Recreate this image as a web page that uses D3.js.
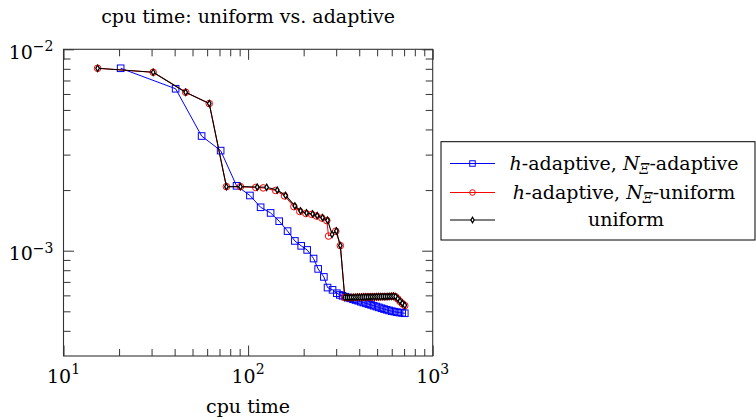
<!DOCTYPE html>
<html>
<head>
<meta charset="utf-8">
<script src="https://cdn.jsdelivr.net/npm/d3@7"></script>
<style>
  body { margin: 0; background: #fff; }
  text { font-family: "DejaVu Serif", serif; fill: #000; }
</style>
</head>
<body>
<div id="graph"></div>
<script>
// series values (cpu time vs error)
let xBlue = [20.4, 40.5, 56.0, 71.0, 86.6, 102.3, 116.9, 132.4, 147.4, 163.6, 179.2, 193.9, 208.9, 226.3, 239.6, 257.3, 269.4, 286.8, 302.6, 314.1,
  325, 336, 347, 358, 370, 382, 395, 408, 421, 435, 449, 464, 479, 495, 511, 528, 545, 563, 581, 600, 620, 640, 661, 683, 706];
let yBlue = [8.05e-3, 6.37e-3, 3.71e-3, 3.14e-3, 2.10e-3, 1.88e-3, 1.643e-3, 1.540e-3, 1.401e-3, 1.251e-3, 1.118e-3, 1.057e-3, 1.009e-3, 9.14e-4, 8.12e-4, 7.41e-4, 6.56e-4, 6.39e-4, 6.15e-4, 6.03e-4,
  5.97e-4, 5.91e-4, 5.85e-4, 5.80e-4, 5.74e-4, 5.69e-4, 5.64e-4, 5.58e-4, 5.53e-4, 5.48e-4, 5.43e-4, 5.38e-4, 5.33e-4, 5.28e-4, 5.23e-4, 5.18e-4, 5.13e-4, 5.09e-4, 5.05e-4, 5.01e-4, 4.98e-4, 4.95e-4, 4.93e-4, 4.91e-4, 4.89e-4];

let xRed = [15.3, 30.6, 45.9, 61.6, 76.3, 90.9, 110.0, 120.7, 141.0, 157.5, 177.0, 190.5, 205.5, 221.0, 234.5, 251.0, 267.0, 272.8, 298.5, 316, 334,
  343, 352, 361, 371, 381, 391, 401, 412, 423, 434, 446, 458, 470, 483, 496, 509, 523, 537, 551, 566, 581, 597, 613, 630, 647, 665, 685, 706];
let yRed = [8.05e-3, 7.69e-3, 6.12e-3, 5.38e-3, 2.08e-3, 2.08e-3, 2.06e-3, 2.05e-3, 1.99e-3, 1.87e-3, 1.655e-3, 1.565e-3, 1.530e-3, 1.515e-3, 1.487e-3, 1.452e-3, 1.410e-3, 1.182e-3, 1.250e-3, 1.06e-3, 5.86e-4,
  5.85e-4, 5.85e-4, 5.86e-4, 5.86e-4, 5.87e-4, 5.87e-4, 5.87e-4, 5.88e-4, 5.88e-4, 5.88e-4, 5.89e-4, 5.89e-4, 5.89e-4, 5.90e-4, 5.90e-4, 5.90e-4, 5.91e-4, 5.91e-4, 5.91e-4, 5.92e-4, 5.92e-4, 5.93e-4, 5.94e-4, 5.90e-4, 5.76e-4, 5.60e-4, 5.46e-4, 5.34e-4];

let xBlack = [15.3, 30.6, 45.9, 61.6, 76.3, 90.9, 112.0, 126.0, 143.8, 159.6, 179.2, 192.4, 207.4, 223.5, 236.7, 253.2, 269.4, 285.0, 300.7, 316, 334,
  343, 352, 361, 371, 381, 391, 401, 412, 423, 434, 446, 458, 470, 483, 496, 509, 523, 537, 551, 566, 581, 597, 613, 630, 647, 665, 685, 706];
let yBlack = [8.05e-3, 7.69e-3, 6.12e-3, 5.38e-3, 2.08e-3, 2.08e-3, 2.07e-3, 2.065e-3, 2.00e-3, 1.88e-3, 1.668e-3, 1.576e-3, 1.540e-3, 1.523e-3, 1.493e-3, 1.459e-3, 1.417e-3, 1.205e-3, 1.254e-3, 1.06e-3, 5.86e-4,
  5.86e-4, 5.86e-4, 5.87e-4, 5.87e-4, 5.87e-4, 5.88e-4, 5.88e-4, 5.88e-4, 5.89e-4, 5.89e-4, 5.89e-4, 5.90e-4, 5.90e-4, 5.90e-4, 5.91e-4, 5.91e-4, 5.91e-4, 5.92e-4, 5.92e-4, 5.92e-4, 5.93e-4, 5.93e-4, 5.94e-4, 5.92e-4, 5.78e-4, 5.62e-4, 5.48e-4, 5.36e-4];

// ticks
let xMajor = [10, 100, 1000];
let xMinor = [20, 30, 40, 50, 60, 70, 80, 90, 200, 300, 400, 500, 600, 700, 800, 900];
let yMajor = [1e-3, 1e-2];
let yMinor = [4e-4, 5e-4, 6e-4, 7e-4, 8e-4, 9e-4, 2e-3, 3e-3, 4e-3, 5e-3, 6e-3, 7e-3, 8e-3, 9e-3];
let xTickLabels = [["10", "1"], ["10", "2"], ["10", "3"]];
let yTickLabels = [["10", "\u22123"], ["10", "\u22122"]];

let svg = d3.select("#graph").append("svg")
  .attr("width", 756)
  .attr("height", 420);

let plotL = 63.5, plotR = 432.7, plotT = 49.3, plotB = 356;
let x = d3.scaleLog().domain([10, 1000]).range([plotL, plotR]);
let y = d3.scaleLog().domain([3e-4, 1e-2]).range([plotB, plotT]);

// inward ticks on all four sides
let tickGroup = (axis, tx, ty) => {
  let g = svg.append("g")
    .attr("transform", "translate(" + tx + "," + ty + ")")
    .call(axis);
  g.select(".domain").remove();
  g.selectAll("line").attr("stroke", "#333").attr("stroke-width", 1);
  g.selectAll("text").remove();
};
tickGroup(d3.axisBottom(x).tickValues(xMajor).tickSize(-10.5), 0, plotB);
tickGroup(d3.axisBottom(x).tickValues(xMinor).tickSize(-7), 0, plotB);
tickGroup(d3.axisTop(x).tickValues(xMajor).tickSize(-10.5), 0, plotT);
tickGroup(d3.axisTop(x).tickValues(xMinor).tickSize(-7), 0, plotT);
tickGroup(d3.axisLeft(y).tickValues(yMajor).tickSize(-10.5), plotL, 0);
tickGroup(d3.axisLeft(y).tickValues(yMinor).tickSize(-7), plotL, 0);
tickGroup(d3.axisRight(y).tickValues(yMajor).tickSize(-10.5), plotR, 0);
tickGroup(d3.axisRight(y).tickValues(yMinor).tickSize(-7), plotR, 0);

svg.append("rect")
  .attr("x", plotL).attr("y", plotT)
  .attr("width", plotR - plotL).attr("height", plotB - plotT)
  .attr("fill", "none").attr("stroke", "#333").attr("stroke-width", 1.1);

// tick labels with superscripts
xMajor.forEach((v, i) => {
  let t = svg.append("text")
    .attr("x", x(v)).attr("y", plotB + 27)
    .attr("text-anchor", "middle")
    .attr("font-size", 19);
  t.append("tspan").text(xTickLabels[i][0]);
  t.append("tspan").attr("font-size", 14).attr("dy", -9).text(xTickLabels[i][1]);
});
yMajor.forEach((v, i) => {
  let t = svg.append("text")
    .attr("x", 53.5).attr("y", y(v) + 9.5)
    .attr("text-anchor", "end")
    .attr("font-size", 19);
  t.append("tspan").text(yTickLabels[i][0]);
  t.append("tspan").attr("font-size", 14).attr("dy", -7.5).text(yTickLabels[i][1]);
});

svg.append("text")
  .attr("x", (plotL + plotR) / 2).attr("y", 23)
  .attr("text-anchor", "middle")
  .attr("font-size", 19)
  .text("cpu time: uniform vs. adaptive");

svg.append("text")
  .attr("x", (plotL + plotR) / 2).attr("y", 413)
  .attr("text-anchor", "middle")
  .attr("font-size", 19)
  .text("cpu time");

// series
let line = d3.line().x(d => x(d[0])).y(d => y(d[1]));
let series = [
  {xs: xBlue, ys: yBlue, color: "#0000ff", width: 1, mark: "square"},
  {xs: xRed, ys: yRed, color: "#ff0000", width: 1, mark: "circle"},
  {xs: xBlack, ys: yBlack, color: "#000000", width: 1.1, mark: "diamond"}
];

let drawMark = (g, mark, color, px, py, small) => {
  if (mark === "square") {
    let s = small ? 5.5 : 6.6;
    g.append("rect")
      .attr("x", px - s / 2).attr("y", py - s / 2)
      .attr("width", s).attr("height", s)
      .attr("fill", "none").attr("stroke", color).attr("stroke-width", 1);
  } else if (mark === "circle") {
    g.append("circle")
      .attr("cx", px).attr("cy", py).attr("r", small ? 2.8 : 3.3)
      .attr("fill", "none").attr("stroke", color).attr("stroke-width", 1);
  } else {
    g.append("path")
      .attr("d", d3.symbol().type(d3.symbolDiamond).size(small ? 9 : 11)())
      .attr("transform", "translate(" + px + "," + py + ")")
      .attr("fill", "#fff").attr("stroke", color).attr("stroke-width", 1.3);
  }
};

series.forEach(s => {
  let pts = s.xs.map((v, i) => [v, s.ys[i]]);
  let g = svg.append("g");
  g.append("path")
    .attr("d", line(pts))
    .attr("fill", "none")
    .attr("stroke", s.color)
    .attr("stroke-width", s.width);
  pts.forEach(p => drawMark(g, s.mark, s.color, x(p[0]), y(p[1]), false));
});

// legend
let lg = svg.append("g");
lg.append("rect")
  .attr("x", 441).attr("y", 141.7)
  .attr("width", 314).attr("height", 98.3)
  .attr("fill", "#fff").attr("stroke", "#000").attr("stroke-width", 1);

let rowY = [163.5, 192.5, 220];
series.forEach((s, i) => {
  lg.append("line")
    .attr("x1", 450).attr("x2", 495)
    .attr("y1", rowY[i]).attr("y2", rowY[i])
    .attr("stroke", s.color).attr("stroke-width", s.width);
  drawMark(lg, s.mark, s.color, 472.5, rowY[i], true);
});

let addNXi = (t, tail) => {
  t.append("tspan").attr("font-style", "italic").text("h");
  t.append("tspan").text("-adaptive, ");
  t.append("tspan").attr("font-style", "italic").text("N");
  t.append("tspan").attr("font-style", "italic").attr("font-size", 14).attr("dy", 4).text("\u039E");
  t.append("tspan").attr("dy", -4).text(tail);
};
let t1 = lg.append("text").attr("x", 624).attr("y", rowY[0] + 6.5)
  .attr("text-anchor", "middle").attr("font-size", 19);
addNXi(t1, "-adaptive");
let t2 = lg.append("text").attr("x", 624).attr("y", rowY[1] + 6.5)
  .attr("text-anchor", "middle").attr("font-size", 19);
addNXi(t2, "-uniform");
lg.append("text").attr("x", 626).attr("y", rowY[2] + 6)
  .attr("text-anchor", "middle").attr("font-size", 19)
  .text("uniform");
</script>
</body>
</html>
